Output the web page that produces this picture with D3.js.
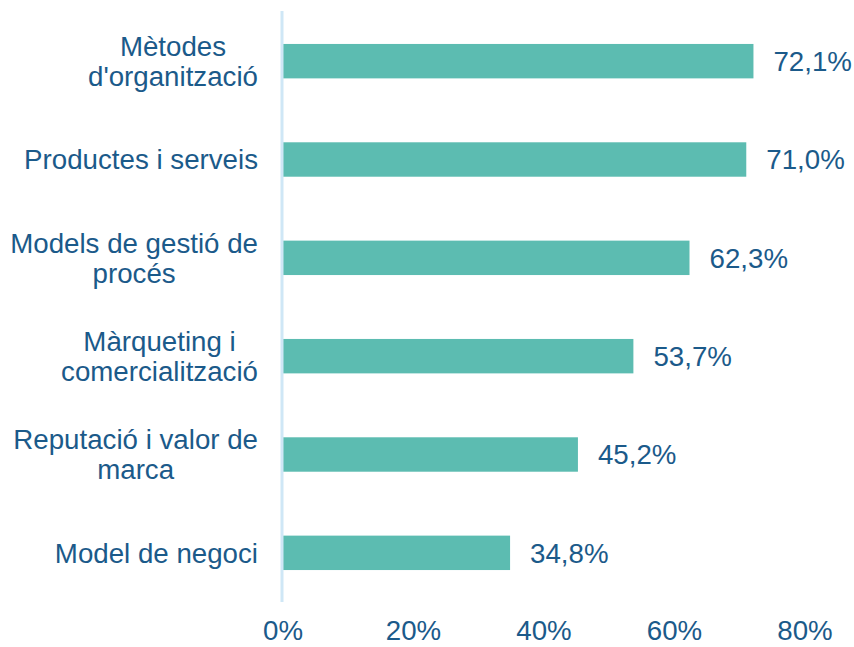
<!DOCTYPE html>
<html><head><meta charset="utf-8">
<script src="https://cdn.jsdelivr.net/npm/d3@7"></script>
<style>body{margin:0;background:#fff}svg{display:block}text{font-family:"Liberation Sans",Arial,sans-serif}</style>
</head><body>
<svg id="c" width="854" height="647"></svg>
<script>
const categories = [
  ["Mètodes", "d'organització"],
  ["Productes i serveis"],
  ["Models de gestió de", "procés"],
  ["Màrqueting i", "comercialització"],
  ["Reputació i valor de", "marca"],
  ["Model de negoci"]
];
const values = [72.1, 71.0, 62.3, 53.7, 45.2, 34.8];
const valueLabels = ["72,1%", "71,0%", "62,3%", "53,7%", "45,2%", "34,8%"];
const tickValues = [0, 20, 40, 60, 80];
const tickLabels = ["0%", "20%", "40%", "60%", "80%"];

const textColor = "#1B5A8A";
const barColor = "#5CBCB1";
const fs = 27.7;
const svg = d3.select("#c");
const x = d3.scaleLinear().domain([0, 80]).range([283, 805]);
const y = d3.scaleBand().domain(d3.range(categories.length)).range([12, 602]).paddingInner(0.65).paddingOuter(0.325);

// bars
svg.selectAll("rect.bar").data(values).join("rect")
  .attr("x", x(0)).attr("y", (d, i) => y(i))
  .attr("width", d => x(d) - x(0)).attr("height", y.bandwidth())
  .attr("fill", barColor);

// axis line
svg.append("line").attr("x1", 282).attr("x2", 282).attr("y1", 11).attr("y2", 602)
  .attr("stroke", "#CFE7F6").attr("stroke-width", 3);

// value labels
svg.selectAll("text.val").data(values).join("text")
  .attr("x", d => x(d) + 20).attr("y", (d, i) => y(i) + y.bandwidth() / 2)
  .attr("dy", "0.35em").attr("font-size", fs).attr("fill", textColor)
  .text((d, i) => valueLabels[i]);

// category labels
const rightEdge = 258, lh = 30;
categories.forEach((lines, i) => {
  const cy = y(i) + y.bandwidth() / 2;
  const g = svg.append("g");
  const ts = lines.map((l, j) => g.append("text")
    .attr("font-size", fs).attr("fill", textColor).attr("text-anchor", "middle")
    .attr("y", cy + (j - (lines.length - 1) / 2) * lh).attr("dy", "0.35em").text(l));
  const maxW = d3.max(ts, t => t.node().getComputedTextLength());
  ts.forEach(t => t.attr("x", rightEdge - maxW / 2));
});

// x tick labels
svg.selectAll("text.tick").data(tickValues).join("text")
  .attr("x", d => x(d)).attr("y", 640)
  .attr("text-anchor", "middle").attr("font-size", fs).attr("fill", textColor)
  .text((d, i) => tickLabels[i]);
</script>
</body></html>
